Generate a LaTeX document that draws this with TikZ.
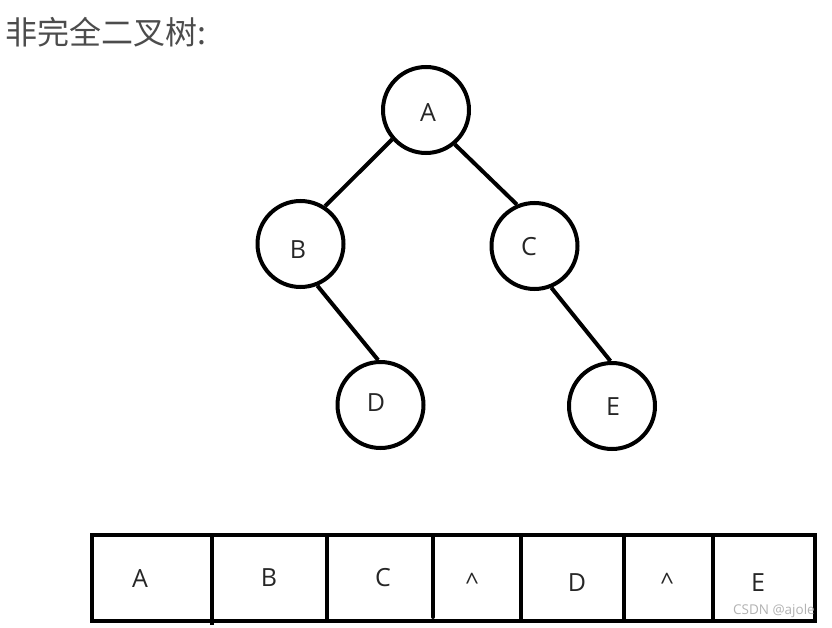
\documentclass[tikz,border=0pt]{standalone}
\usepackage{fontspec}
\setmainfont{Open Sans}
\newfontfamily\cjk{Noto Sans CJK SC}
\begin{document}
\begin{tikzpicture}[x=1pt,y=-1pt,
  treenode/.style={circle,draw=black,line width=4pt,minimum size=86pt,inner sep=0pt},
  edge/.style={draw=black,line width=4pt},
  letter/.style={text=black!85,font=\fontsize{25}{27}\selectfont,inner sep=0pt},
  cellline/.style={draw=black,line width=4pt},
  ]
\useasboundingbox (0,0) rectangle (832,628);
% title
\node[anchor=base west,inner sep=0pt,text=black!70,font=\cjk\fontsize{32}{35}\selectfont] (title) at (5,44.5) {非完全二叉树:};
% tree
\node[treenode] (A) at (426,110) {};
\node[treenode] (B) at (300.5,244) {};
\node[treenode] (C) at (534.5,246) {};
\node[treenode] (D) at (380.5,405) {};
\node[treenode] (E) at (612,406) {};
\node[letter] (tA) at (428,112.5) {A};
\node[letter] (tB) at (298,250) {B};
\node[letter] (tC) at (529,246.5) {C};
\node[letter] (tD) at (376,402.5) {D};
\node[letter] (tE) at (613,406.5) {E};
\draw[edge] (A.221) -- (B.57);
\draw[edge] (A.310) -- (C.113);
\draw[edge] (B.292) -- (D.93);
\draw[edge] (C.292) -- (E.92);
% array
\coordinate (r0) at (92,535);
\coordinate (r1) at (815,621);
\draw[cellline] (r0) rectangle (r1);
\coordinate (d1t) at (212,535); \coordinate (d1b) at (212,625);
\coordinate (d2t) at (327,535); \coordinate (d2b) at (327,621);
\coordinate (d3t) at (433,535); \coordinate (d3b) at (433,617);
\coordinate (d4t) at (521,535); \coordinate (d4b) at (521,621);
\coordinate (d5t) at (624,535); \coordinate (d5b) at (624,621);
\coordinate (d6t) at (713,535); \coordinate (d6b) at (713,621);
\draw[cellline] (d1t) -- (d1b);
\draw[cellline] (d2t) -- (d2b);
\draw[cellline,line cap=round] (d3t) -- (d3b);
\draw[cellline] (d4t) -- (d4b);
\draw[cellline] (d5t) -- (d5b);
\draw[cellline] (d6t) -- (d6b);
\node[letter] (a1) at (140,579) {A};
\node[letter] (a2) at (269,578) {B};
\node[letter] (a3) at (383,578) {C};
\node[letter,font=\fontsize{24}{26}\selectfont] (a4) at (472,581.5) {\textasciicircum};
\node[letter] (a5) at (577,583) {D};
\node[letter,font=\fontsize{24}{26}\selectfont] (a6) at (667,581.5) {\textasciicircum};
\node[letter] (a7) at (758,583) {E};
\node[anchor=east,inner sep=0pt,text=black!30,font=\fontsize{13.5}{14}\selectfont] (wm) at (815,611) {CSDN @ajole};
\end{tikzpicture}
\end{document}
